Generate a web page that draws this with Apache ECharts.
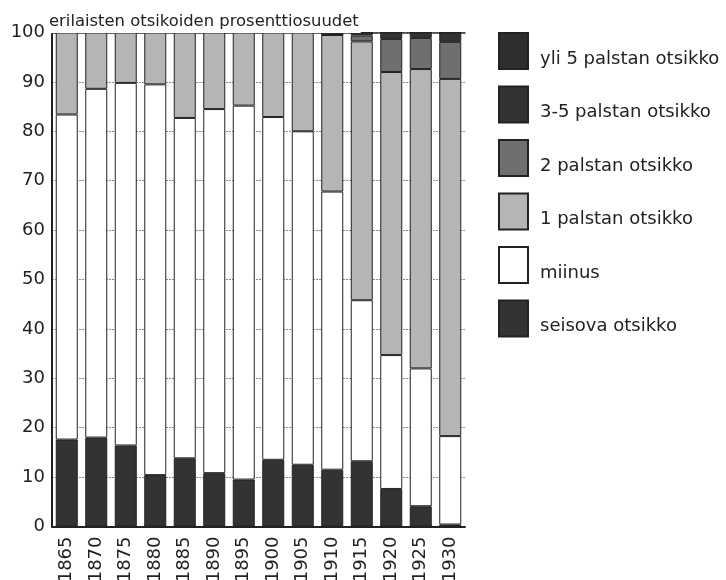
<!DOCTYPE html>
<html>
<head>
<meta charset="utf-8">
<script src="https://cdn.jsdelivr.net/npm/echarts@6/dist/echarts.min.js"></script>
<style>html,body{margin:0;padding:0;background:#fff}#c{width:726px;height:580px}</style>
</head>
<body>
<div id="c"></div>
<script>
const years = ['1865','1870','1875','1880','1885','1890','1895','1900','1905','1910','1915','1920','1925','1930'];
const seisova = [17.6, 18.0, 16.4, 10.4, 13.8, 10.8, 9.5, 13.5, 12.5, 11.5, 13.2, 7.6, 4.1, 0.4];
const miinus = [65.8, 70.6, 73.4, 79.1, 68.9, 73.7, 75.7, 69.4, 67.5, 56.3, 32.6, 27.1, 27.9, 17.9];
const palsta1 = [16.6, 11.4, 10.2, 10.5, 17.3, 15.5, 14.8, 17.1, 20.0, 31.7, 52.4, 57.3, 60.6, 72.3];
const palsta2 = [0, 0, 0, 0, 0, 0, 0, 0, 0, 0, 1.2, 6.7, 6.3, 7.5];
const palsta35 = [0, 0, 0, 0, 0, 0, 0, 0, 0, 0.5, 0.6, 1.3, 1.1, 1.9];
const palsta5plus = [0, 0, 0, 0, 0, 0, 0, 0, 0, 0, 0, 0, 0, 0];
const yTicks = [0, 10, 20, 30, 40, 50, 60, 70, 80, 90, 100];

const names = {
  s: 'seisova otsikko', m: 'miinus', p1: '1 palstan otsikko',
  p2: '2 palstan otsikko', p35: '3-5 palstan otsikko', p5: 'yli 5 palstan otsikko'
};
const FONT = 'DejaVu Sans';
function bar(name, data, color) {
  return {
    name, type: 'bar', stack: 'tot', data,
    barWidth: 22,
    itemStyle: { color, borderColor: '#222', borderWidth: 1 }
  };
}
const chart = echarts.init(document.getElementById('c'), null, { renderer: 'canvas' });
chart.setOption({
  animation: false,
  backgroundColor: '#fff',
  title: {
    text: 'erilaisten otsikoiden prosenttiosuudet',
    left: 47, top: 11,
    padding: [3, 2, 3, 2],
    backgroundColor: '#fff',
    textStyle: { fontFamily: FONT, fontSize: 16.4, fontWeight: 'normal', color: '#222' }
  },
  legend: {
    orient: 'vertical', left: 498, top: 32, padding: 0,
    itemWidth: 29, itemHeight: 36, itemGap: 15.5,
    icon: 'rect',
    data: [names.p5, names.p35, names.p2, names.p1, names.m, names.s],
    formatter: '{t|{name}}',
    textStyle: {
      fontFamily: FONT, fontSize: 18, color: '#222',
      rich: { t: { fontFamily: FONT, fontSize: 18, color: '#222', lineHeight: 20, padding: [16, 0, 0, 7] } }
    },
    selectedMode: false
  },
  grid: { left: 52, right: 261, top: 32.5, bottom: 53.5, outerBoundsMode: 'none', containLabel: false },
  xAxis: [{
    type: 'category', data: years,
    axisLine: { lineStyle: { color: '#222', width: 2 } },
    axisTick: { show: false },
    axisLabel: { rotate: 90, margin: 10, fontFamily: FONT, fontSize: 18, color: '#222' }
  }, {
    type: 'category', data: years, position: 'top',
    axisLine: { lineStyle: { color: '#333', width: 1.5 } },
    axisTick: { show: false }, axisLabel: { show: false }
  }],
  yAxis: {
    type: 'value', min: yTicks[0], max: yTicks[yTicks.length - 1], interval: 10,
    axisLine: { show: true, lineStyle: { color: '#222', width: 2 } },
    axisTick: { show: false },
    axisLabel: { margin: 7, fontFamily: FONT, fontSize: 18, color: '#222' },
    splitLine: { lineStyle: { color: '#888', width: 1, type: [2, 1] } }
  },
  series: [
    bar(names.s, seisova, '#333333'),
    bar(names.m, miinus, '#ffffff'),
    bar(names.p1, palsta1, '#b5b5b5'),
    bar(names.p2, palsta2, '#6f6f6f'),
    bar(names.p35, palsta35, '#333333'),
    bar(names.p5, palsta5plus, '#2e2e2e')
  ]
});
</script>
</body>
</html>
